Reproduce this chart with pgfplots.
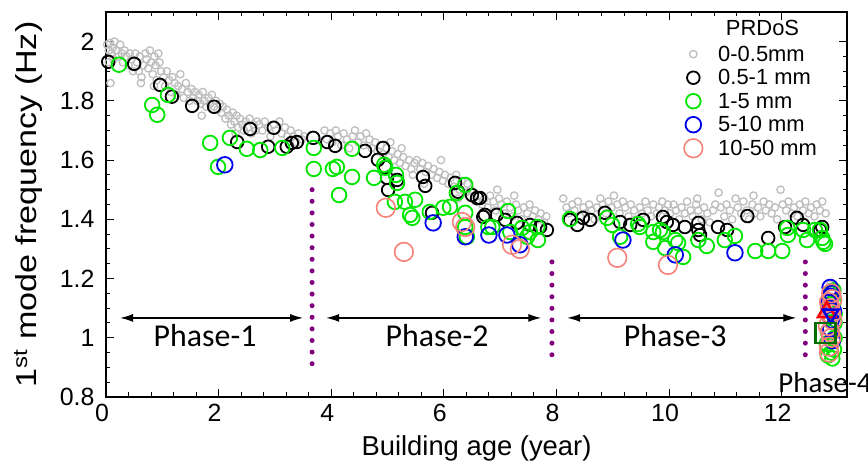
\documentclass[border=0pt]{standalone}
\usepackage{pgfplots}
\pgfplotsset{compat=1.18}
\usepackage{fontspec}
\setmainfont{Liberation Sans}
\newfontfamily\calib{Carlito}
\usetikzlibrary{arrows.meta}
\definecolor{grayc}{RGB}{190,190,190}
\definecolor{greenc}{RGB}{0,230,0}
\definecolor{bluec}{RGB}{0,0,235}
\definecolor{salmonc}{RGB}{245,130,120}
\definecolor{purplec}{RGB}{128,0,128}
\definecolor{dgreen}{RGB}{0,110,0}
\begin{document}
\begin{tikzpicture}
\begin{axis}[
  scale only axis, width=741bp, height=385bp,
  xmin=0, xmax=13.16, ymin=0.8, ymax=2.1,
  xtick={0,2,4,6,8,10,12}, ytick={0.8,1,1.2,1.4,1.6,1.8,2},
  minor x tick num=4, minor y tick num=3,
  tick align=inside, major tick length=8bp, minor tick length=4.5bp,
  tick style={black, line width=1bp},
  axis line style={line width=1.5bp},
  ticklabel style={font=\fontsize{25}{25}\selectfont},
  x tick label style={xshift=-4bp},
  xticklabel shift=4bp, yticklabel shift=8bp,
  /pgf/number format/assume math mode=true,
  xlabel={Building age (year)},
  ylabel={1\textsuperscript{st} mode frequency (Hz)},
  xlabel style={font=\fontsize{27.5}{27.5}\selectfont},
  ylabel style={font=\fontsize{29}{29}\selectfont, xscale=1.18},
  xlabel shift=7bp, ylabel shift=11bp,
  clip mode=individual,
  legend style={draw=none, fill=none, at={(0.779,0.918)}, anchor=north west,
    font=\fontsize{22}{22}\selectfont, row sep=2.8bp, inner sep=0pt},
  legend cell align=left,
  legend image code/.code={\path (0bp,0bp) (31bp,0bp); \draw plot coordinates {(9bp,0bp)};},
]
% 0-0.5 mm
\addplot[only marks, mark=o, mark size=3.7bp, grayc, line width=1.3bp] coordinates {
(0.02,1.99)(0.05,1.97)(0.07,1.995)(0.1,1.96)(0.12,1.98)(0.15,2.0)(0.08,1.86)(0.18,1.97)(0.22,1.95)(0.25,1.99)
(0.28,1.96)(0.3,1.93)(0.33,1.97)(0.36,1.95)(0.4,1.92)(0.42,1.96)(0.45,1.94)(0.48,1.90)(0.05,1.93)(0.13,1.94)
(0.52,1.96)(0.55,1.93)(0.58,1.90)(0.6,1.95)(0.63,1.88)(0.66,1.92)(0.7,1.96)(0.72,1.94)(0.75,1.91)(0.78,1.97)
(0.8,1.93)(0.83,1.89)(0.86,1.95)(0.88,1.92)(0.9,1.87)(0.93,1.96)(0.95,1.93)(0.98,1.90)(0.62,1.86)(0.85,1.85)
(1.02,1.88)(1.05,1.85)(1.08,1.9)(1.12,1.87)(1.15,1.83)(1.18,1.88)(1.22,1.86)(1.25,1.82)(1.28,1.85)(1.32,1.89)
(1.35,1.84)(1.38,1.81)(1.42,1.86)(1.45,1.83)(1.48,1.80)
(1.52,1.84)(1.55,1.81)(1.58,1.83)(1.62,1.80)(1.65,1.82)(1.68,1.79)(1.72,1.83)(1.75,1.80)(1.78,1.78)(1.82,1.81)
(1.85,1.79)(1.88,1.82)(1.92,1.78)(1.95,1.80)(1.98,1.77)(1.7,1.75)
(2.02,1.79)(2.05,1.76)(2.08,1.78)(2.12,1.74)(2.15,1.77)(2.18,1.75)(2.22,1.72)(2.25,1.76)(2.28,1.73)(2.32,1.75)
(2.35,1.71)(2.38,1.74)(2.42,1.72)(2.45,1.70)(2.48,1.73)(2.52,1.71)(2.55,1.74)(2.58,1.69)(2.62,1.72)(2.65,1.70)
(2.68,1.73)(2.3,1.69)
(2.72,1.72)(2.78,1.70)(2.82,1.73)(2.88,1.71)(2.92,1.68)(2.98,1.72)(3.02,1.70)(3.08,1.73)(3.12,1.69)(3.18,1.71)
(3.22,1.68)(3.28,1.70)(3.32,1.68)(3.38,1.66)(3.42,1.69)(3.48,1.67)
(3.52,1.68)(3.88,1.70)(3.92,1.67)(3.98,1.69)(4.02,1.66)(4.08,1.70)(4.12,1.68)(4.18,1.65)(4.22,1.69)(4.28,1.67)
(4.32,1.64)(4.38,1.68)(4.42,1.70)(4.48,1.66)(4.52,1.68)(4.58,1.65)(4.62,1.69)(4.68,1.67)(4.72,1.64)
(4.78,1.66)(4.82,1.63)(4.88,1.65)(4.92,1.62)(4.98,1.64)(5.02,1.61)(5.08,1.63)(5.12,1.60)(5.18,1.62)(5.22,1.59)
(5.28,1.61)(5.32,1.58)(5.38,1.60)(5.42,1.57)(5.48,1.59)(5.05,1.66)(5.25,1.64)(5.45,1.55)
(5.52,1.60)(5.58,1.57)(5.62,1.59)(5.68,1.56)(5.72,1.58)(5.78,1.55)(5.82,1.57)(5.88,1.54)(5.92,1.56)(5.98,1.53)
(6.02,1.55)(6.08,1.52)(6.12,1.54)(6.18,1.51)(6.22,1.55)(6.28,1.50)(6.32,1.53)(6.38,1.49)(6.42,1.52)(6.48,1.50)
(5.65,1.52)(5.95,1.60)(6.25,1.47)
(6.52,1.49)(6.58,1.46)(6.62,1.48)(6.68,1.45)(6.72,1.47)(6.78,1.44)(6.82,1.48)(6.88,1.46)(6.92,1.43)(6.98,1.47)
(7.02,1.45)(7.08,1.42)(7.12,1.46)(7.18,1.44)(7.22,1.41)(7.28,1.45)(7.32,1.43)(7.38,1.40)(7.42,1.44)(7.48,1.42)
(7.52,1.45)(7.58,1.41)(7.62,1.43)(7.68,1.40)(7.72,1.42)(7.78,1.39)(7.82,1.41)(6.95,1.50)(7.25,1.48)
(8.12,1.47)(8.18,1.44)(8.22,1.42)(8.28,1.45)(8.32,1.43)(8.38,1.46)(8.42,1.41)(8.48,1.44)(8.52,1.42)(8.58,1.45)
(8.62,1.43)(8.68,1.40)(8.72,1.44)(8.78,1.47)(8.82,1.45)(8.88,1.42)(8.92,1.46)(8.98,1.44)(9.02,1.48)(9.08,1.45)
(9.12,1.42)(9.18,1.46)(9.22,1.44)(9.28,1.41)(9.32,1.45)(9.38,1.43)(9.42,1.40)(9.48,1.44)(9.52,1.42)(9.58,1.46)
(9.62,1.43)(9.68,1.41)(9.72,1.45)(9.78,1.42)(9.82,1.44)(9.88,1.46)(9.92,1.43)(9.98,1.45)
(10.02,1.42)(10.08,1.45)(10.12,1.43)(10.18,1.40)(10.22,1.44)(10.28,1.42)(10.32,1.46)(10.38,1.43)(10.42,1.41)(10.48,1.45)
(10.52,1.43)(10.58,1.40)(10.62,1.44)(10.68,1.42)(10.72,1.39)(10.78,1.43)(10.82,1.45)(10.88,1.49)(10.92,1.44)(10.98,1.41)
(11.02,1.45)(11.08,1.43)(11.12,1.40)(11.18,1.47)(11.22,1.44)(11.28,1.42)(11.32,1.46)(11.38,1.43)(11.42,1.40)(11.48,1.45)
(11.52,1.42)(11.58,1.44)(11.62,1.41)(11.68,1.46)(11.72,1.43)(11.78,1.45)(11.82,1.42)(11.88,1.44)(11.92,1.40)(11.98,1.50)
(12.02,1.45)(12.08,1.43)(12.12,1.46)(12.18,1.42)(12.22,1.44)(12.28,1.41)(12.32,1.45)(12.38,1.43)(12.42,1.46)(12.48,1.42)
(12.52,1.44)(12.58,1.41)(12.62,1.45)(12.68,1.43)(12.72,1.46)(12.78,1.42)(11.5,1.48)(10.5,1.47)(12.86,1.18)
};
\addlegendentry{0-0.5mm}
% 0.5-1 mm
\addplot[only marks, mark=o, mark size=6.3bp, black, line width=1.8bp] coordinates {
(0.04,1.932)(0.50,1.925)(0.96,1.854)(1.17,1.814)(1.53,1.783)(1.92,1.780)(2.56,1.705)(2.98,1.709)(2.33,1.661)
(2.88,1.645)(3.21,1.645)(3.30,1.658)(3.39,1.661)(3.68,1.675)(3.93,1.661)(4.07,1.648)(4.60,1.631)(4.92,1.641)
(4.83,1.601)(4.96,1.577)(4.99,1.540)(5.01,1.499)(5.17,1.533)(5.63,1.543)(5.67,1.513)(6.20,1.523)(6.25,1.493)
(6.50,1.482)(6.59,1.472)(6.70,1.408)(5.79,1.422)(6.64,1.472)(6.73,1.415)(6.94,1.415)(7.09,1.398)(7.30,1.388)
(7.53,1.381)(7.71,1.374)(7.83,1.364)(8.24,1.398)(8.37,1.381)(8.47,1.405)(8.60,1.398)(8.86,1.422)(9.13,1.391)
(9.31,1.381)(9.54,1.398)(9.89,1.408)(9.96,1.391)(10.07,1.381)(10.28,1.374)(10.52,1.388)(10.52,1.364)(10.55,1.347)
(10.87,1.374)(11.03,1.364)(11.39,1.411)(11.76,1.337)(12.06,1.374)(12.27,1.405)(12.38,1.381)(12.72,1.374)(12.68,1.364)
(12.88,1.16)
};
\addlegendentry{0.5-1 mm}
% 1-5 mm
\addplot[only marks, mark=o, mark size=7.3bp, greenc, line width=1.8bp] coordinates {
(0.23,1.922)(0.82,1.786)(0.91,1.753)(1.10,1.820)(1.85,1.658)(2.20,1.675)(2.50,1.638)(2.74,1.634)(3.13,1.641)
(1.99,1.577)(3.69,1.641)(3.69,1.570)(4.03,1.570)(4.10,1.577)(4.37,1.638)(4.37,1.543)(4.14,1.482)(4.76,1.540)
(4.94,1.584)(4.96,1.574)(5.15,1.550)(5.17,1.523)(5.13,1.459)(5.31,1.459)(5.49,1.466)(5.40,1.415)(5.44,1.405)
(5.75,1.425)(5.99,1.439)(6.11,1.442)(6.38,1.516)(6.23,1.489)(6.38,1.422)(6.38,1.374)(6.41,1.341)(6.79,1.374)
(7.14,1.428)(6.86,1.374)(7.18,1.357)(7.39,1.371)(7.53,1.357)(7.66,1.374)(7.67,1.330)(7.48,1.341)(8.24,1.401)
(8.90,1.405)(8.99,1.381)(9.45,1.384)(9.48,1.374)(9.13,1.341)(9.72,1.357)(9.72,1.324)(9.84,1.364)(9.93,1.303)
(9.89,1.357)(10.11,1.330)(10.16,1.320)(10.25,1.273)(10.52,1.330)(10.67,1.310)(10.99,1.330)(11.17,1.344)
(11.53,1.293)(11.76,1.293)(12.01,1.293)(12.10,1.371)(12.11,1.347)(12.38,1.364)(12.45,1.330)(12.59,1.364)
(12.68,1.364)(12.74,1.324)(12.72,1.337)(12.77,1.317)
(12.82,0.94)(12.90,0.93)(12.93,0.96)(12.80,0.98)(12.94,1.00)(12.92,1.12)(12.86,1.15)(12.94,1.05)(12.84,1.10)
(12.88,0.95)(12.92,1.16)(12.82,1.02)(12.94,1.08)
};
\addlegendentry{1-5 mm}
% 5-10 mm
\addplot[only marks, mark=o, mark size=7.8bp, bluec, line width=1.8bp] coordinates {
(2.11,1.584)(5.81,1.388)(6.38,1.341)(6.80,1.347)(7.12,1.347)(7.35,1.314)(9.18,1.330)(10.11,1.280)(11.17,1.287)
(12.86,1.17)(12.90,1.15)(12.84,1.12)(12.92,1.09)(12.87,1.03)(12.90,0.99)(12.86,1.14)(12.88,1.06)
};
\addlegendentry{5-10 mm}
% 10-50 mm
\addplot[only marks, mark=o, mark size=9.3bp, salmonc, line width=1.6bp] coordinates {
(4.97,1.439)(5.29,1.290)(6.32,1.391)(6.38,1.374)(7.21,1.314)(7.35,1.300)(9.08,1.270)(9.98,1.246)
(12.84,0.97)(12.88,1.00)(12.82,1.04)(12.90,1.06)(12.86,1.10)(12.90,1.13)(12.84,0.95)(12.88,1.08)
(12.86,1.02)(12.88,1.15)(12.84,1.12)
};
\addlegendentry{10-50 mm}
% phase-4 special markers
\addplot[only marks, mark=triangle, mark size=10bp, red, line width=2.5bp, forget plot] coordinates {(12.80,1.087)};
\addplot[only marks, mark=triangle, mark options={rotate=180}, mark size=9bp, bluec, line width=2.5bp, forget plot] coordinates {(12.87,1.08)};
\addplot[only marks, mark=square, mark size=10bp, dgreen, line width=2.8bp, forget plot] coordinates {(12.78,1.016)};
% dotted phase boundaries
\addplot[purplec, line width=5bp, line cap=round, dash pattern=on 0bp off 11.6bp, forget plot] coordinates {(3.66,1.50) (3.66,0.88)};
\addplot[purplec, line width=5bp, line cap=round, dash pattern=on 0bp off 11.6bp, forget plot] coordinates {(7.92,1.256) (7.92,0.91)};
\addplot[purplec, line width=5bp, line cap=round, dash pattern=on 0bp off 11.6bp, forget plot] coordinates {(12.42,1.256) (12.42,0.91)};
% phase arrows
\addplot[black, line width=1.3bp, arrows={Latex[length=13bp,width=8bp]-Latex[length=13bp,width=8bp]}, forget plot] coordinates {(0.25,1.067) (3.50,1.067)};
\addplot[black, line width=1.3bp, arrows={Latex[length=13bp,width=8bp]-Latex[length=13bp,width=8bp]}, forget plot] coordinates {(3.91,1.067) (7.73,1.067)};
\addplot[black, line width=1.3bp, arrows={Latex[length=13bp,width=8bp]-Latex[length=13bp,width=8bp]}, forget plot] coordinates {(8.19,1.067) (12.26,1.067)};
\node[font=\calib\fontsize{32}{32}\selectfont] at (axis cs:1.76,1.006) {Phase-1};
\node[font=\calib\fontsize{32}{32}\selectfont] at (axis cs:5.88,1.006) {Phase-2};
\node[font=\calib\fontsize{32}{32}\selectfont] at (axis cs:10.11,1.006) {Phase-3};
\node[font=\calib\fontsize{29}{29}\selectfont, anchor=west] at (axis cs:11.88,0.85) {Phase-4};
\node[font=\fontsize{22}{22}\selectfont] at (axis description cs:0.886,0.958) {PRDoS};
\coordinate (ll) at (rel axis cs:0,0);
\coordinate (ur) at (rel axis cs:1,1);
\end{axis}
\pgfresetboundingbox
\path[use as bounding box] ([shift={(-106bp,-71bp)}]ll) rectangle ([shift={(21bp,12bp)}]ur);
\end{tikzpicture}
\end{document}
